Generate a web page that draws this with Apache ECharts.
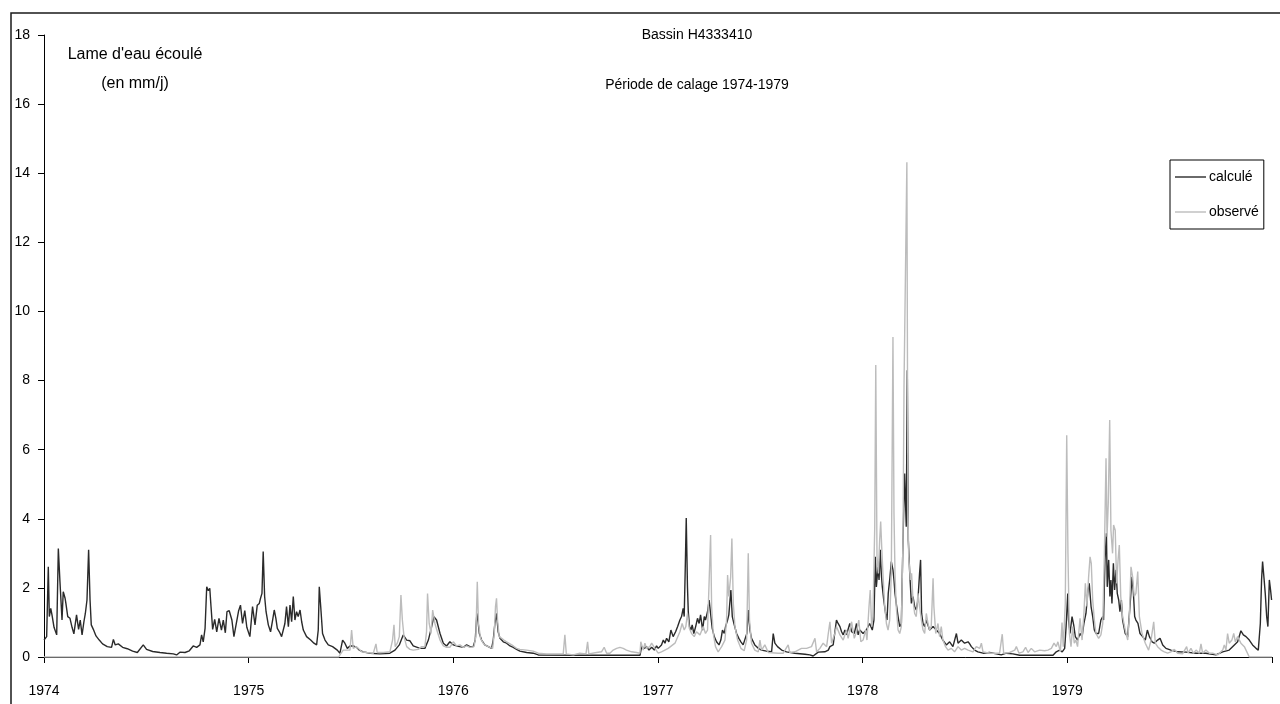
<!DOCTYPE html>
<html>
<head>
<meta charset="utf-8">
<script src="https://cdn.jsdelivr.net/npm/echarts@6/dist/echarts.min.js"></script>
<style>
html,body{margin:0;padding:0;background:#fff;}
#chart{width:1280px;height:704px;}
</style>
</head>
<body>
<div id="chart"></div>
<script>
// ---- DATA (x = decimal year, y = mm/j) ----
var titleMain = 'Bassin H4333410';
var titleSub = 'Période de calage 1974-1979';
var yTitle1 = "Lame d'eau écoulé";
var yTitle2 = '(en mm/j)';
var seriesNames = ['calculé', 'observé'];
var yearTicks = [1974, 1975, 1976, 1977, 1978, 1979];

var calc1974 = [[1974.000,0.49],[1974.013,0.59],[1974.021,2.61],[1974.026,1.17],[1974.033,1.41],[1974.039,1.22],[1974.049,0.86],[1974.062,0.64],[1974.070,3.14],[1974.078,2.18],[1974.088,1.07],[1974.094,1.89],[1974.103,1.70],[1974.107,1.55],[1974.116,1.17],[1974.127,1.12],[1974.137,0.86],[1974.146,0.67],[1974.159,1.22],[1974.169,0.80],[1974.177,1.07],[1974.186,0.64],[1974.195,1.02],[1974.202,1.26],[1974.210,1.65],[1974.218,3.10],[1974.225,1.65],[1974.231,0.93],[1974.241,0.80],[1974.254,0.61],[1974.270,0.49],[1974.286,0.38],[1974.309,0.30],[1974.330,0.28],[1974.339,0.51],[1974.348,0.35],[1974.363,0.38],[1974.384,0.28],[1974.407,0.24],[1974.433,0.17],[1974.456,0.13],[1974.485,0.35],[1974.501,0.22],[1974.531,0.16],[1974.567,0.13],[1974.599,0.11],[1974.632,0.09],[1974.648,0.06],[1974.664,0.14],[1974.689,0.13],[1974.710,0.18],[1974.729,0.32],[1974.746,0.28],[1974.762,0.35],[1974.770,0.64],[1974.778,0.44],[1974.787,0.83],[1974.795,2.03],[1974.803,1.92],[1974.810,1.99],[1974.816,1.46],[1974.824,0.80],[1974.834,1.09],[1974.844,0.73],[1974.855,1.12],[1974.867,0.78],[1974.876,1.07],[1974.886,0.70],[1974.894,1.31],[1974.905,1.34],[1974.918,1.07],[1974.928,0.59],[1974.941,1.02],[1974.951,1.34],[1974.960,1.50],[1974.970,0.97],[1974.981,1.34],[1974.991,0.86]];

var calc1975 = [[1975.006,0.59],[1975.019,1.46],[1975.031,0.93],[1975.042,1.50],[1975.052,1.55],[1975.058,1.70],[1975.065,1.84],[1975.071,3.05],[1975.078,1.75],[1975.085,1.31],[1975.096,0.93],[1975.107,0.73],[1975.117,1.07],[1975.125,1.36],[1975.133,1.12],[1975.140,0.83],[1975.150,0.73],[1975.161,0.59],[1975.169,0.54],[1975.177,0.97],[1975.185,1.46],[1975.194,0.88],[1975.202,1.50],[1975.210,1.02],[1975.218,1.75],[1975.226,1.07],[1975.234,1.31],[1975.242,1.17],[1975.251,1.36],[1975.259,1.02],[1975.267,0.78],[1975.283,0.59],[1975.303,0.49],[1975.319,0.40],[1975.332,0.35],[1975.340,0.78],[1975.345,2.03],[1975.352,1.46],[1975.361,0.68],[1975.373,0.49],[1975.389,0.35],[1975.410,0.30],[1975.433,0.20],[1975.446,0.11],[1975.459,0.49],[1975.470,0.40],[1975.482,0.25],[1975.495,0.32],[1975.511,0.32],[1975.527,0.28],[1975.540,0.20],[1975.560,0.15],[1975.593,0.11],[1975.641,0.09],[1975.690,0.11],[1975.715,0.20],[1975.736,0.35],[1975.755,0.64],[1975.772,0.49],[1975.788,0.47],[1975.804,0.32],[1975.837,0.25],[1975.861,0.25],[1975.878,0.49],[1975.894,0.88],[1975.905,1.17],[1975.918,1.07],[1975.935,0.68],[1975.951,0.40],[1975.967,0.32],[1975.983,0.44],[1976.000,0.35]];

var calc1976 = [[1976.016,0.32],[1976.032,0.30],[1976.049,0.28],[1976.065,0.35],[1976.081,0.30],[1976.097,0.30],[1976.107,0.49],[1976.115,1.26],[1976.120,1.07],[1976.127,0.68],[1976.138,0.49],[1976.154,0.35],[1976.171,0.30],[1976.187,0.25],[1976.195,0.49],[1976.203,0.97],[1976.211,1.26],[1976.219,0.73],[1976.228,0.54],[1976.244,0.44],[1976.260,0.40],[1976.277,0.32],[1976.293,0.28],[1976.309,0.22],[1976.325,0.17],[1976.358,0.13],[1976.390,0.11],[1976.415,0.06],[1976.650,0.05],[1976.912,0.05],[1976.920,0.30],[1976.933,0.25],[1976.944,0.30],[1976.956,0.20],[1976.969,0.28],[1976.982,0.20],[1976.993,0.32]];

var calc1977 = [[1977.001,0.25],[1977.017,0.35],[1977.026,0.49],[1977.034,0.40],[1977.042,0.54],[1977.053,0.44],[1977.063,0.78],[1977.074,0.59],[1977.086,0.73],[1977.096,0.88],[1977.107,1.07],[1977.115,1.17],[1977.123,1.41],[1977.128,1.17],[1977.133,2.52],[1977.138,4.02],[1977.144,2.03],[1977.148,1.31],[1977.154,0.88],[1977.161,0.78],[1977.167,0.93],[1977.175,0.68],[1977.184,0.88],[1977.193,1.12],[1977.201,0.97],[1977.208,1.22],[1977.218,0.78],[1977.226,1.17],[1977.232,1.07],[1977.242,1.31],[1977.250,1.65],[1977.255,1.36],[1977.265,0.83],[1977.275,0.59],[1977.286,0.44],[1977.298,0.35],[1977.307,0.49],[1977.315,0.78],[1977.324,0.68],[1977.330,0.88],[1977.340,1.07],[1977.346,1.22],[1977.356,1.94],[1977.363,1.17],[1977.371,0.97],[1977.384,0.68],[1977.395,0.54],[1977.405,0.44],[1977.416,0.35],[1977.425,0.40],[1977.434,0.68],[1977.441,1.36],[1977.449,0.78],[1977.457,0.54],[1977.473,0.35],[1977.490,0.25],[1977.506,0.20],[1977.530,0.17],[1977.555,0.15],[1977.563,0.68],[1977.571,0.40],[1977.584,0.30],[1977.604,0.20],[1977.628,0.15],[1977.669,0.11],[1977.718,0.08],[1977.742,0.06],[1977.758,0.03],[1977.783,0.14],[1977.815,0.15],[1977.832,0.20],[1977.840,0.30],[1977.856,0.35],[1977.872,1.07],[1977.880,0.97],[1977.889,0.88],[1977.897,0.73],[1977.905,0.64],[1977.913,0.78],[1977.921,0.64],[1977.929,0.59],[1977.937,0.97],[1977.946,0.73],[1977.959,0.68],[1977.970,0.97],[1977.978,0.64],[1977.986,0.78],[1977.994,0.73]];

var calc1978 = [[1978.002,0.68],[1978.018,0.78],[1978.034,0.97],[1978.047,0.78],[1978.055,1.07],[1978.062,2.90],[1978.067,2.03],[1978.075,2.61],[1978.080,2.23],[1978.086,3.10],[1978.091,2.42],[1978.096,2.03],[1978.103,1.65],[1978.112,1.26],[1978.119,1.07],[1978.125,1.84],[1978.132,2.23],[1978.140,2.76],[1978.148,2.52],[1978.153,2.23],[1978.158,1.84],[1978.164,1.55],[1978.173,1.17],[1978.181,0.88],[1978.189,0.97],[1978.197,3.38],[1978.205,5.31],[1978.213,3.77],[1978.218,8.30],[1978.223,3.38],[1978.230,2.42],[1978.238,1.55],[1978.246,1.75],[1978.254,1.46],[1978.262,1.36],[1978.270,1.65],[1978.278,2.42],[1978.283,2.81],[1978.288,1.26],[1978.295,0.97],[1978.303,0.88],[1978.311,1.07],[1978.327,0.78],[1978.344,0.88],[1978.360,0.78],[1978.376,0.68],[1978.392,0.49],[1978.409,0.35],[1978.425,0.44],[1978.441,0.30],[1978.458,0.68],[1978.466,0.40],[1978.482,0.49],[1978.498,0.40],[1978.515,0.44],[1978.523,0.38],[1978.531,0.30],[1978.547,0.20],[1978.563,0.15],[1978.588,0.11],[1978.620,0.13],[1978.653,0.09],[1978.677,0.06],[1978.702,0.11],[1978.734,0.09],[1978.767,0.05],[1978.865,0.05],[1978.930,0.05],[1978.946,0.15],[1978.962,0.20],[1978.975,0.15],[1978.987,0.25]];

var calc1979 = [[1978.994,0.88],[1979.002,1.84],[1979.006,1.07],[1979.013,0.68],[1979.023,1.17],[1979.031,0.93],[1979.039,0.59],[1979.050,0.49],[1979.062,0.68],[1979.072,0.59],[1979.081,0.97],[1979.091,1.26],[1979.101,1.94],[1979.107,2.13],[1979.116,1.46],[1979.124,1.17],[1979.132,0.78],[1979.140,0.68],[1979.153,0.68],[1979.164,1.07],[1979.173,1.17],[1979.177,1.07],[1979.184,2.81],[1979.191,3.58],[1979.195,2.03],[1979.202,2.81],[1979.208,1.75],[1979.213,2.23],[1979.218,1.55],[1979.225,2.71],[1979.231,1.94],[1979.238,2.52],[1979.244,1.84],[1979.251,1.65],[1979.257,1.31],[1979.264,1.65],[1979.270,1.07],[1979.283,0.68],[1979.295,0.59],[1979.306,1.46],[1979.316,2.32],[1979.322,1.94],[1979.329,1.17],[1979.335,1.07],[1979.345,0.97],[1979.355,0.68],[1979.368,0.59],[1979.381,0.49],[1979.391,0.78],[1979.401,0.59],[1979.414,0.44],[1979.425,0.40],[1979.441,0.49],[1979.453,0.54],[1979.466,0.35],[1979.482,0.25],[1979.506,0.20],[1979.539,0.15],[1979.580,0.14],[1979.629,0.11],[1979.677,0.11],[1979.726,0.06],[1979.759,0.15],[1979.791,0.20],[1979.816,0.35],[1979.832,0.44],[1979.848,0.76],[1979.860,0.64],[1979.873,0.59],[1979.889,0.49],[1979.905,0.35],[1979.922,0.25],[1979.933,0.20],[1979.943,0.97],[1979.949,2.23],[1979.954,2.76],[1979.961,2.28],[1979.967,1.84],[1979.974,1.17],[1979.980,0.88],[1979.987,2.23],[1979.993,1.94],[1979.998,1.65]];

var obs1974 = [[1974.000,0],[1974.999,0]];

var obs1975 = [[1975.000,0],[1975.440,0],[1975.446,0.06],[1975.462,0.20],[1975.479,0.20],[1975.495,0.20],[1975.503,0.78],[1975.511,0.25],[1975.524,0.30],[1975.536,0.25],[1975.552,0.15],[1975.576,0.13],[1975.609,0.11],[1975.622,0.38],[1975.628,0.13],[1975.658,0.13],[1975.690,0.15],[1975.703,0.49],[1975.710,0.93],[1975.716,0.30],[1975.726,0.40],[1975.736,0.59],[1975.744,1.79],[1975.751,1.07],[1975.759,0.59],[1975.772,0.30],[1975.788,0.22],[1975.804,0.20],[1975.829,0.22],[1975.845,0.30],[1975.861,0.30],[1975.869,0.73],[1975.874,1.84],[1975.882,0.97],[1975.891,0.68],[1975.899,1.36],[1975.910,0.97],[1975.922,0.73],[1975.935,0.49],[1975.951,0.32],[1975.967,0.28],[1975.983,0.28]];

var obs1976 = [[1976.000,0.44],[1976.016,0.32],[1976.032,0.35],[1976.049,0.28],[1976.065,0.32],[1976.081,0.28],[1976.101,0.30],[1976.110,0.59],[1976.117,2.18],[1976.123,0.97],[1976.133,0.54],[1976.146,0.40],[1976.163,0.32],[1976.179,0.28],[1976.192,0.25],[1976.200,0.68],[1976.206,1.46],[1976.211,1.70],[1976.216,1.07],[1976.224,0.59],[1976.236,0.54],[1976.247,0.49],[1976.260,0.44],[1976.277,0.38],[1976.293,0.32],[1976.309,0.25],[1976.325,0.22],[1976.358,0.20],[1976.390,0.17],[1976.415,0.11],[1976.456,0.09],[1976.504,0.09],[1976.537,0.09],[1976.545,0.64],[1976.552,0.09],[1976.586,0.06],[1976.618,0.11],[1976.648,0.09],[1976.656,0.44],[1976.662,0.09],[1976.700,0.13],[1976.724,0.15],[1976.737,0.28],[1976.749,0.11],[1976.765,0.11],[1976.781,0.20],[1976.798,0.25],[1976.814,0.28],[1976.830,0.25],[1976.846,0.20],[1976.871,0.15],[1976.895,0.13],[1976.912,0.11],[1976.916,0.44],[1976.928,0.20],[1976.936,0.40],[1976.944,0.25],[1976.960,0.30],[1976.969,0.40],[1976.985,0.25]];

var obs1977 = [[1977.001,0.11],[1977.017,0.15],[1977.050,0.25],[1977.083,0.40],[1977.107,0.73],[1977.118,0.97],[1977.128,0.78],[1977.136,0.88],[1977.144,1.26],[1977.153,0.83],[1977.164,0.68],[1977.177,0.59],[1977.188,0.73],[1977.205,0.64],[1977.221,0.88],[1977.232,0.68],[1977.242,0.78],[1977.250,2.23],[1977.257,3.53],[1977.262,1.46],[1977.270,0.68],[1977.281,0.30],[1977.294,0.15],[1977.311,0.30],[1977.327,0.49],[1977.335,1.07],[1977.340,2.37],[1977.346,1.75],[1977.355,2.32],[1977.361,3.43],[1977.368,1.55],[1977.376,0.88],[1977.389,0.49],[1977.405,0.25],[1977.421,0.18],[1977.433,0.49],[1977.441,3.00],[1977.447,1.07],[1977.457,0.40],[1977.473,0.20],[1977.490,0.15],[1977.498,0.49],[1977.506,0.20],[1977.522,0.35],[1977.539,0.13],[1977.587,0.11],[1977.612,0.11],[1977.636,0.35],[1977.644,0.13],[1977.669,0.15],[1977.701,0.25],[1977.726,0.25],[1977.750,0.30],[1977.767,0.54],[1977.775,0.15],[1977.791,0.25],[1977.807,0.40],[1977.824,0.30],[1977.832,0.68],[1977.840,1.02],[1977.848,0.40],[1977.864,0.68],[1977.872,0.88],[1977.889,0.64],[1977.905,0.49],[1977.921,0.78],[1977.929,0.54],[1977.946,1.02],[1977.959,0.54],[1977.970,0.73],[1977.981,1.07],[1977.991,0.44]];

var obs1978 = [[1978.002,0.49],[1978.015,0.78],[1978.021,0.49],[1978.031,1.46],[1978.037,1.94],[1978.044,0.88],[1978.050,1.17],[1978.059,3.77],[1978.064,8.45],[1978.070,2.90],[1978.077,2.42],[1978.083,3.38],[1978.088,3.92],[1978.093,3.19],[1978.099,2.42],[1978.107,1.55],[1978.116,0.97],[1978.124,0.78],[1978.132,1.07],[1978.140,2.42],[1978.148,9.26],[1978.153,4.16],[1978.158,2.42],[1978.164,1.46],[1978.173,0.78],[1978.181,0.68],[1978.189,0.88],[1978.197,3.38],[1978.202,7.82],[1978.216,14.32],[1978.221,4.35],[1978.225,2.90],[1978.233,2.23],[1978.239,2.42],[1978.246,1.65],[1978.254,1.26],[1978.262,1.17],[1978.270,1.84],[1978.278,1.46],[1978.287,1.07],[1978.295,0.78],[1978.303,0.68],[1978.311,1.26],[1978.319,0.97],[1978.327,0.78],[1978.335,0.88],[1978.344,2.28],[1978.348,1.46],[1978.357,0.68],[1978.368,0.97],[1978.376,0.59],[1978.384,0.88],[1978.392,0.49],[1978.405,0.30],[1978.417,0.20],[1978.433,0.25],[1978.449,0.15],[1978.466,0.30],[1978.482,0.20],[1978.498,0.25],[1978.515,0.20],[1978.539,0.15],[1978.555,0.30],[1978.572,0.25],[1978.580,0.40],[1978.588,0.15],[1978.604,0.13],[1978.629,0.11],[1978.669,0.11],[1978.682,0.66],[1978.689,0.11],[1978.718,0.13],[1978.743,0.20],[1978.751,0.30],[1978.764,0.11],[1978.783,0.15],[1978.796,0.28],[1978.808,0.13],[1978.824,0.25],[1978.840,0.15],[1978.865,0.20],[1978.889,0.18],[1978.905,0.20],[1978.922,0.25],[1978.935,0.40],[1978.946,0.30],[1978.954,0.44],[1978.966,0.15],[1978.974,1.00],[1978.980,0.30],[1978.990,1.55],[1978.997,6.42]];

var obs1979 = [[1979.003,3.00],[1979.010,0.68],[1979.018,0.30],[1979.026,0.88],[1979.034,0.40],[1979.042,0.49],[1979.050,0.30],[1979.062,1.12],[1979.072,0.49],[1979.081,1.26],[1979.088,2.13],[1979.096,1.46],[1979.104,2.32],[1979.111,2.90],[1979.117,2.71],[1979.124,1.65],[1979.132,1.07],[1979.140,0.68],[1979.153,0.54],[1979.164,0.64],[1979.173,0.97],[1979.181,3.00],[1979.189,5.75],[1979.194,3.48],[1979.200,4.45],[1979.207,6.86],[1979.213,3.67],[1979.221,3.00],[1979.226,3.82],[1979.234,3.67],[1979.241,2.13],[1979.248,2.81],[1979.254,3.24],[1979.261,1.75],[1979.270,1.17],[1979.283,0.78],[1979.295,0.49],[1979.303,1.17],[1979.311,2.61],[1979.319,2.32],[1979.327,1.75],[1979.335,1.84],[1979.344,2.47],[1979.352,1.17],[1979.365,0.68],[1979.381,0.40],[1979.397,0.20],[1979.409,0.49],[1979.422,1.02],[1979.430,0.40],[1979.441,0.30],[1979.458,0.20],[1979.474,0.15],[1979.490,0.11],[1979.506,0.15],[1979.523,0.22],[1979.539,0.11],[1979.563,0.09],[1979.583,0.30],[1979.590,0.11],[1979.604,0.25],[1979.616,0.11],[1979.629,0.20],[1979.645,0.11],[1979.653,0.38],[1979.661,0.11],[1979.677,0.20],[1979.694,0.11],[1979.710,0.11],[1979.734,0.06],[1979.759,0.20],[1979.767,0.35],[1979.775,0.20],[1979.783,0.68],[1979.791,0.40],[1979.804,0.49],[1979.813,0.68],[1979.821,0.44],[1979.832,0.59],[1979.848,0.40],[1979.865,0.30],[1979.873,0.20],[1979.881,0.15],[1979.889,0],[1980.000,0]];

var calcData = [].concat(calc1974, calc1975, calc1976, calc1977, calc1978, calc1979);
var obsData = [].concat(obs1974, obs1975, obs1976, obs1977, obs1978, obs1979);

// ---- CHART ----
var FONT = '"Liberation Sans", Arial, sans-serif';
var LEGEND_ICON = 'path://M0,0 L31,0 L31,1.4 L0,1.4 Z';
var chart = echarts.init(document.getElementById('chart'), null, {renderer: 'canvas'});
chart.setOption({
  backgroundColor: '#ffffff',
  animation: false,
  textStyle: {fontFamily: FONT},
  title: [
    {text: titleMain, left: 692, top: 23, textAlign: 'center',
     textStyle: {fontFamily: FONT, fontSize: 14, fontWeight: 'normal', color: '#000'}},
    {text: titleSub, left: 692, top: 73, textAlign: 'center',
     textStyle: {fontFamily: FONT, fontSize: 14, fontWeight: 'normal', color: '#000'}},
    {text: yTitle1, left: 130, top: 42, textAlign: 'center',
     textStyle: {fontFamily: FONT, fontSize: 16, fontWeight: 'normal', color: '#000'}},
    {text: yTitle2, left: 130, top: 71, textAlign: 'center',
     textStyle: {fontFamily: FONT, fontSize: 16, fontWeight: 'normal', color: '#000'}}
  ],
  legend: {
    orient: 'vertical',
    left: 1170, top: 160,
    padding: [10, 5, 10, 5],
    itemWidth: 31, itemHeight: 14, itemGap: 21,
    borderColor: '#000', borderWidth: 1,
    backgroundColor: '#fff',
    textStyle: {fontFamily: FONT, fontSize: 14, color: '#000', padding: [0,0,0,-2]},
    data: [
      {name: seriesNames[0], icon: LEGEND_ICON},
      {name: seriesNames[1], icon: LEGEND_ICON}
    ]
  },
  grid: {left: 44, right: 8, top: 35, bottom: 47, containLabel: false},
  xAxis: {
    type: 'value', min: 1974, max: 1980, interval: 1,
    splitLine: {show: false},
    axisLine: {show: true, lineStyle: {color: '#000', width: 1}},
    axisTick: {show: true, inside: false, length: 6, lineStyle: {color: '#000'}},
    axisLabel: {
      margin: 27, fontSize: 14, fontFamily: FONT, color: '#000',
      formatter: function (v) { return yearTicks.indexOf(v) >= 0 ? String(v) : ''; }
    }
  },
  yAxis: {
    type: 'value', min: 0, max: 18, interval: 2,
    splitLine: {show: false},
    axisLine: {show: true, onZero: false, lineStyle: {color: '#000', width: 1}},
    axisTick: {show: true, inside: false, length: 6, lineStyle: {color: '#000'}},
    axisLabel: {margin: 14, fontSize: 14, fontFamily: FONT, color: '#000'}
  },
  graphic: [
    {type: 'rect', silent: true, z: 100,
     shape: {x: 11, y: 13, width: 1400, height: 900},
     style: {fill: null, stroke: '#1a1a1a', lineWidth: 1.5}}
  ],
  series: [
    {name: seriesNames[0], type: 'line', data: calcData, symbol: 'none', showSymbol: false,
     lineStyle: {color: '#2a2a2a', width: 1.4}, itemStyle: {color: '#2a2a2a'}, z: 2},
    {name: seriesNames[1], type: 'line', data: obsData, symbol: 'none', showSymbol: false,
     lineStyle: {color: '#bcbcbc', width: 1.4}, itemStyle: {color: '#bcbcbc'}, z: 3}
  ]
});
</script>
</body>
</html>
